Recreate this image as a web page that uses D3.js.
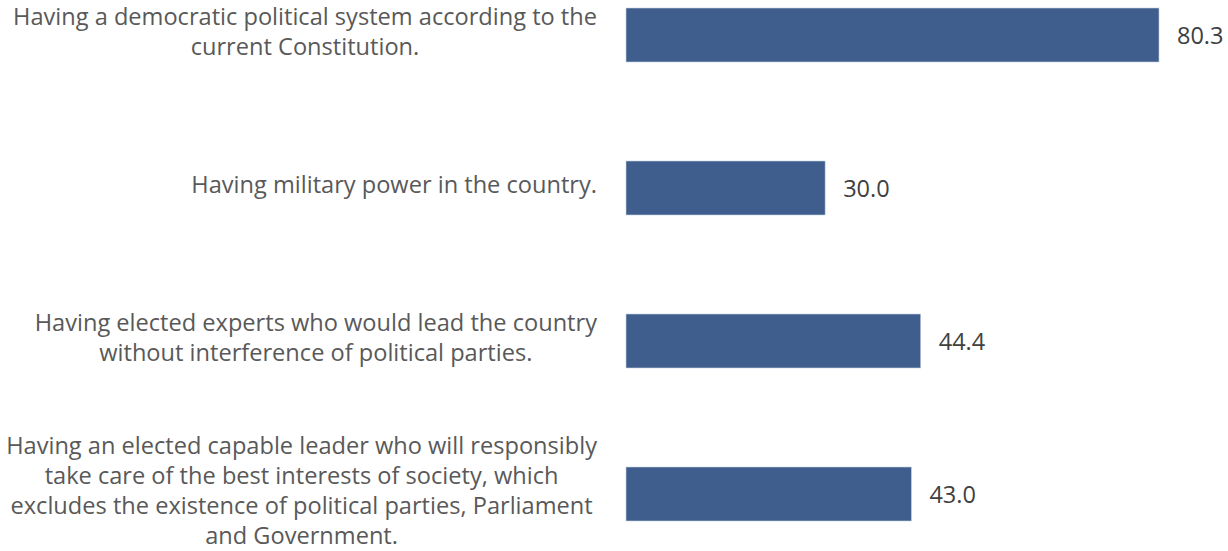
<!DOCTYPE html>
<html>
<head>
<meta charset="utf-8">
<script src="https://cdn.jsdelivr.net/npm/d3@7/dist/d3.min.js"></script>
<style>
  html, body { margin: 0; padding: 0; background: #ffffff; }
  svg { display: block; }
</style>
</head>
<body>
<div id="chart"></div>
<script>
// ---- data ----
const categories = [
  "Having a democratic political system according to the current Constitution.",
  "Having military power in the country.",
  "Having elected experts who would lead the country without interference of political parties.",
  "Having an elected capable leader who will responsibly take care of the best interests of society, which excludes the existence of political parties, Parliament and Government."
];
const categoryLines = [
  ["Having a democratic political system according to the", "current Constitution."],
  ["Having military power in the country."],
  ["Having elected experts who would lead the country", "without interference of political parties."],
  ["Having an elected capable leader who will responsibly", "take care of the best interests of society, which", "excludes the existence of political parties, Parliament", "and Government."]
];
const values = [80.3, 30.0, 44.4, 43.0];
const xDomain = [0, 90];

// ---- layout ----
const W = 1228, H = 551;
const svg = d3.select("#chart").append("svg").attr("width", W).attr("height", H);

const x = d3.scaleLinear().domain(xDomain).range([626, 1223.4]);
const y = d3.scaleBand().domain(categories).range([-41.5, 570.5])
  .paddingInner(0.647).paddingOuter(0.3235);

const barColor = "#3f5e8d";
const fontFamily = "'Open Sans', 'Noto Sans', sans-serif";

svg.append("g").selectAll("rect").data(values).join("rect")
  .attr("x", x(0))
  .attr("y", (d, i) => y(categories[i]))
  .attr("width", d => x(d) - x(0))
  .attr("height", y.bandwidth())
  .attr("fill", barColor)
  .attr("stroke", "#c9d3e2")
  .attr("stroke-width", 0.6);

svg.append("g").selectAll("text").data(values).join("text")
  .attr("x", d => x(d) + 18)
  .attr("y", (d, i) => y(categories[i]) + y.bandwidth() / 2)
  .attr("dominant-baseline", "central")
  .attr("font-family", fontFamily)
  .attr("font-size", 23.5)
  .attr("fill", "#404040")
  .text(d => d.toFixed(1));

// category labels: block right-aligned, lines centered within block
const lineH = 30.2;
const labelRight = 597;
const lg = svg.append("g");
categoryLines.forEach((lines, i) => {
  const cy = y(categories[i]) + y.bandwidth() / 2 - 4;
  const g = lg.append("g");
  const texts = lines.map((ln, j) => g.append("text")
    .attr("y", cy + (j - (lines.length - 1) / 2) * lineH)
    .attr("dominant-baseline", "central")
    .attr("text-anchor", "middle")
    .attr("font-family", fontFamily)
    .attr("font-size", 23.6)
    .attr("fill", "#595959")
    .text(ln));
  const maxW = d3.max(texts, t => t.node().getComputedTextLength());
  texts.forEach(t => t.attr("x", labelRight - maxW / 2));
});
</script>
</body>
</html>
